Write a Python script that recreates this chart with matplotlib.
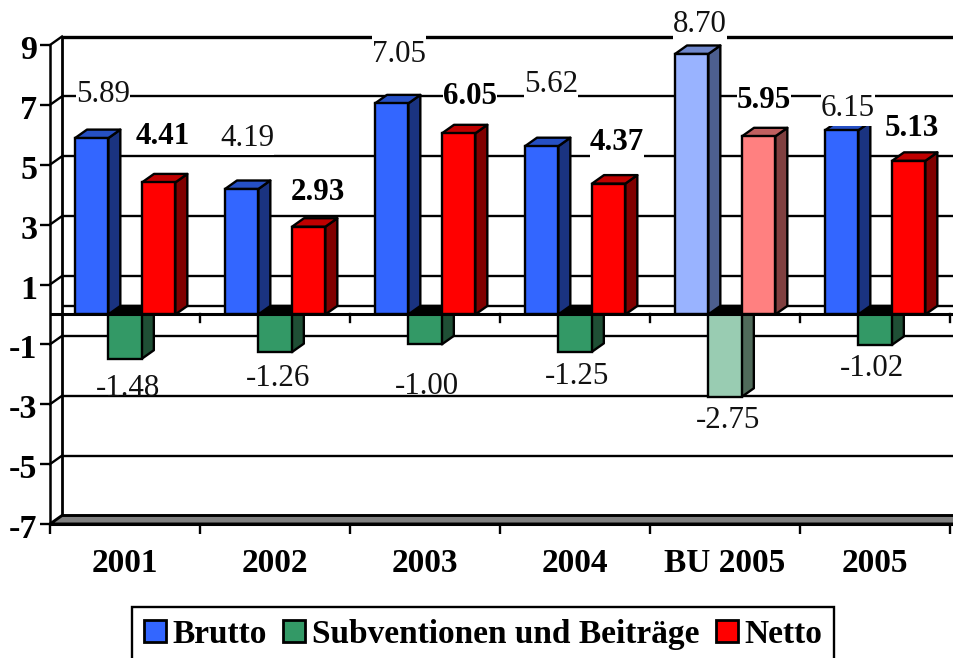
import matplotlib
matplotlib.use("Agg")
import matplotlib.pyplot as plt
from matplotlib.patches import Polygon, Patch, Rectangle
from matplotlib.transforms import ScaledTranslation

plt.rcParams['font.family'] = ['Liberation Serif', 'DejaVu Serif']

categories = ['2001', '2002', '2003', '2004', 'BU 2005', '2005']
brutto = [5.89, 4.19, 7.05, 5.62, 8.70, 6.15]
subventionen = [-1.48, -1.26, -1.00, -1.25, -2.75, -1.02]
netto = [4.41, 2.93, 6.05, 4.37, 5.95, 5.13]
y_ticks = [9, 7, 5, 3, 1, -1, -3, -5, -7]
series_names = ['Brutto', 'Subventionen und Beiträge', 'Netto']

# colours: front, top, side
C_BLUE = ('#3366FF', '#2650C4', '#1A3380')
C_GREEN = ('#339966', '#000000', '#1F4F35')
C_RED = ('#FF0000', '#C00000', '#800000')
C_BLUE_F = ('#99B3FF', '#7088CC', '#4D5F8F')
C_GREEN_F = ('#99CCB2', '#000000', '#506B5A')
C_RED_F = ('#FF8080', '#C06060', '#804040')

W, H = 954, 658
fig = plt.figure(figsize=(W / 100, H / 100), dpi=100)
ax = fig.add_axes([50 / W, 1 - 524 / H, 900 / W, 479 / H])
ax.set_xlim(0, 6)
ax.set_ylim(-7, 9)
for s in ['top', 'right']:
    ax.spines[s].set_visible(False)
ax.spines['left'].set_linewidth(1.8)
ax.spines['bottom'].set_linewidth(2.2)
ax.spines['bottom'].set_bounds(0, 6.04)
ax.patch.set_visible(False)

DX = 12 / 150
DY = 8.5 / (479 / 16)
XR = 6.04
LW = 1.7

# back wall and gridlines
for v in y_ticks[:-1]:
    top = v == y_ticks[0]
    ax.plot([DX, XR], [v + DY, v + DY], color='k', lw=2.4 if top else LW, clip_on=False,
            zorder=1, solid_capstyle='butt')
    ax.plot([0, DX], [v, v + DY], color='k', lw=LW, clip_on=False, zorder=1)
ax.plot([DX, XR], [DY, DY], color='k', lw=LW, clip_on=False, zorder=1, solid_capstyle='butt')
ax.plot([DX, DX], [-7 + DY, 9 + DY], color='k', lw=2.0, clip_on=False, zorder=1)

# floor
ax.add_patch(Polygon([(0, -7), (DX, -7 + DY), (XR, -7 + DY), (XR, -7)], closed=True,
                     facecolor='#808080', edgecolor='k', lw=2.1, clip_on=False, zorder=1.5))

BW = 1 / 4.5
OFFS = [25 / 150, 58.5 / 150, 92 / 150]


def bar3d(x0, v, cols, z):
    x1 = x0 + BW
    lo, hi = min(v, 0), max(v, 0)
    ax.add_patch(Polygon([(x1, lo), (x1 + DX, lo + DY), (x1 + DX, hi + DY), (x1, hi)], closed=True,
                         facecolor=cols[2], edgecolor='k', lw=LW, clip_on=False, zorder=z, joinstyle='round'))
    ax.add_patch(Polygon([(x0, hi), (x0 + DX, hi + DY), (x1 + DX, hi + DY), (x1, hi)], closed=True,
                         facecolor=cols[1], edgecolor='k', lw=LW, clip_on=False, zorder=z, joinstyle='round'))
    ax.add_patch(Rectangle((x0, lo), BW, hi - lo, facecolor=cols[0], edgecolor='k', lw=LW,
                           clip_on=False, zorder=z + 0.1))


for i in range(len(categories)):
    faded = categories[i].startswith('BU')
    bar3d(i + OFFS[1], subventionen[i], C_GREEN_F if faded else C_GREEN, 2 + i)
    bar3d(i + OFFS[0], brutto[i], C_BLUE_F if faded else C_BLUE, 2.3 + i)
    bar3d(i + OFFS[2], netto[i], C_RED_F if faded else C_RED, 2.6 + i)

# zero line with ticks
ax.plot([0, XR], [0, 0], color='k', lw=2.2, clip_on=False, zorder=20, solid_capstyle='butt')
for i in range(1, 7):
    ax.plot([i, i], [0, -7.5 / (479 / 16)], color='k', lw=LW, clip_on=False, zorder=1.2)

ax.set_yticks(y_ticks)
ax.set_yticklabels([str(v) for v in y_ticks], fontsize=24.5, fontweight='bold')
ax.tick_params(axis='y', length=7, width=1.7, pad=2)
shift = ScaledTranslation(0, -2 / 100, fig.dpi_scale_trans)
for t in ax.get_yticklabels():
    t.set_transform(t.get_transform() + shift)
ax.set_xticks(range(7))
ax.set_xticklabels([])
ax.set_xticks([i + 0.5 for i in range(6)], minor=True)
ax.set_xticklabels(categories, minor=True, fontsize=24, fontweight='bold')
ax.tick_params(axis='x', which='major', length=7.5, width=1.7)
ax.tick_params(axis='x', which='minor', length=0, pad=17)

# data labels (placed in pixel coordinates of the picture)
pos_b = [(103.5, 92), (247, 136), (399.5, 53), (551, 83), (700, 23), (848, 107)]
pos_s = [(128, 387), (278, 376), (427, 385), (577, 375), (728, 418), (872, 366)]
pos_n = [(163, 135), (318, 190), (470, 94), (617, 141), (764, 98), (912, 126)]


def label(p, v, weight, box):
    if box:
        fig.add_artist(Rectangle(((p[0] - 27) / W, 1 - (p[1] + 19) / H), 54 / W, 38 / H,
                                 transform=fig.transFigure, facecolor='white',
                                 edgecolor='none', zorder=25))
    fig.text(p[0] / W, 1 - (p[1] + 2) / H, f'{v:.2f}', ha='center', va='center', fontsize=22.3,
             fontweight=weight, color='#111111' if weight == 'normal' else 'k', zorder=30)


for i in range(6):
    label(pos_b[i], brutto[i], 'normal', True)
    label(pos_s[i], subventionen[i], 'normal', False)
    label(pos_n[i], netto[i], 'bold', True)

handles = [Patch(facecolor=c[0], edgecolor='k', lw=2.0) for c in (C_BLUE, C_GREEN, C_RED)]
leg = fig.legend(handles, series_names, loc='lower left', bbox_to_anchor=(132 / W, -4 / H),
                 borderaxespad=0, ncol=3, frameon=True, fancybox=False, edgecolor='k', framealpha=1,
                 prop=dict(size=24, weight='bold', family='Liberation Serif'),
                 handlelength=0.65, handleheight=0.65, handletextpad=0.2, columnspacing=0.5,
                 borderpad=0.36)
leg.get_frame().set_linewidth(1.7)

fig.savefig('out.png', dpi=100)
